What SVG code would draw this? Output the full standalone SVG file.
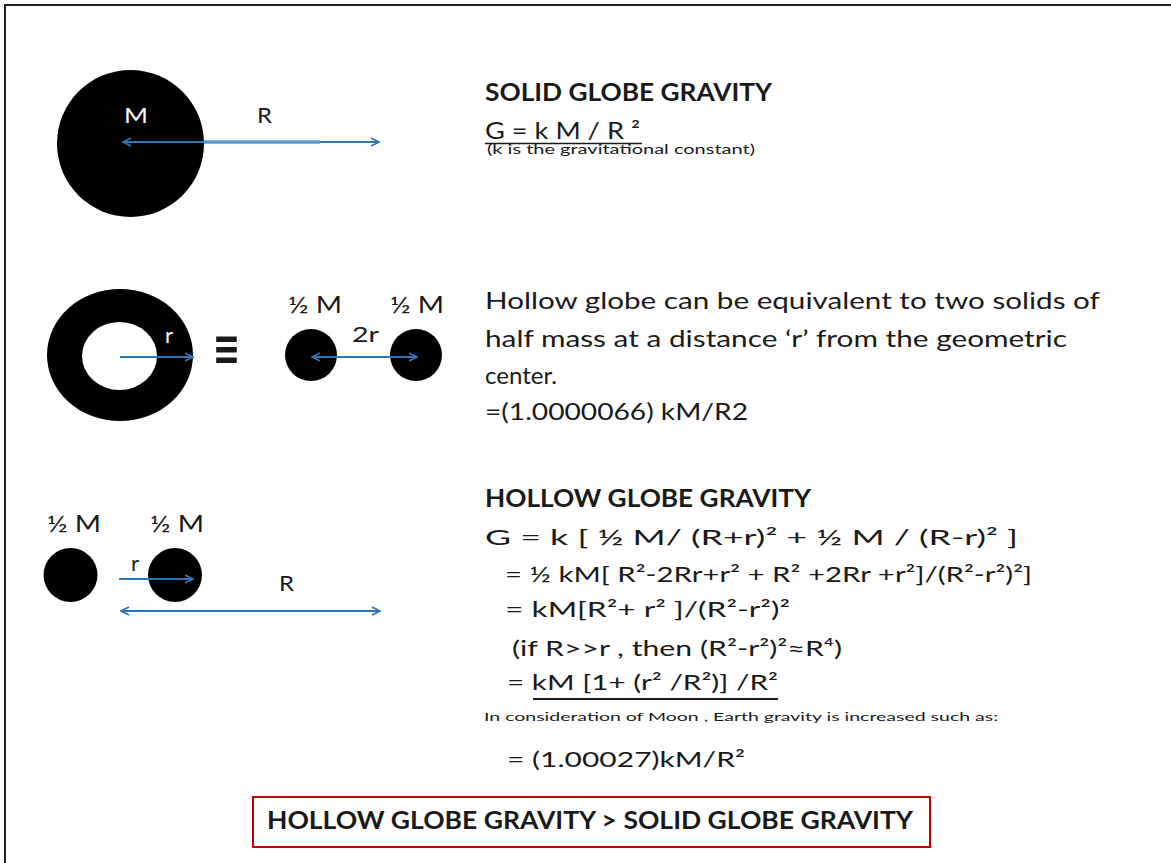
<svg xmlns="http://www.w3.org/2000/svg" width="1171" height="863" viewBox="0 0 1171 863">
<style>
.t{font-family:Lato,"Open Sans","Liberation Sans",sans-serif;fill:#1a1a1a}
.b{font-weight:bold}
.w{fill:#ffffff}
.ar{stroke:#2e75b6;stroke-width:2;fill:none}
.blob{fill:#000}
</style>
<defs>
<marker id="ah" viewBox="0 0 10 10" refX="9" refY="5" markerWidth="10" markerHeight="10" markerUnits="userSpaceOnUse" orient="auto-start-reverse">
<path d="M1,1 L9,5 L1,9" fill="none" stroke="#2e75b6" stroke-width="1.8"/>
</marker>
</defs>
<rect width="1171" height="863" fill="#fff"/>
<path d="M5,863 V5 H1171" fill="none" stroke="#222" stroke-width="2"/>

<g id="solid-globe">
<circle class="blob" cx="130.5" cy="143.5" r="73.5"/>
<text class="t w" x="124" y="123" font-size="22" textLength="24" lengthAdjust="spacingAndGlyphs">M</text>
<text class="t" x="257" y="123" font-size="22" textLength="15" lengthAdjust="spacingAndGlyphs">R</text>
</g>
<g id="solid-text">
<text class="t b" x="485" y="101" font-size="24" textLength="287" lengthAdjust="spacingAndGlyphs">SOLID GLOBE GRAVITY</text>
<text class="t" x="485" y="139" font-size="23" textLength="155" lengthAdjust="spacingAndGlyphs">G = k M / R ²</text>
<line x1="485" y1="143.5" x2="642" y2="143.5" stroke="#1a1a1a" stroke-width="1.5"/>
<text class="t" x="487" y="154" font-size="12.5" textLength="268" lengthAdjust="spacingAndGlyphs">(k is the gravitational constant)</text>
</g>

<g id="hollow-globe">
<path fill-rule="evenodd" class="blob" d="M47,355 a73,66 0 1,0 146,0 a73,66 0 1,0 -146,0 Z M82,356 a37.5,34 0 1,0 75,0 a37.5,34 0 1,0 -75,0 Z"/>
<text class="t w" x="165" y="343" font-size="22">r</text>
<text class="t b" x="213" y="369.5" font-size="60" textLength="27" lengthAdjust="spacingAndGlyphs">≡</text>
</g>
<g id="half-masses-1">
<circle class="blob" cx="311" cy="355" r="26"/>
<circle class="blob" cx="416" cy="355" r="26"/>
<text class="t" x="288" y="313" font-size="23" textLength="54" lengthAdjust="spacingAndGlyphs">½ M</text>
<text class="t" x="390" y="313" font-size="23" textLength="54" lengthAdjust="spacingAndGlyphs">½ M</text>
<text class="t" x="352" y="342" font-size="22" textLength="27" lengthAdjust="spacingAndGlyphs">2r</text>
</g>
<g id="equivalence-text">
<text class="t" x="485" y="309" font-size="24" textLength="615" lengthAdjust="spacingAndGlyphs">Hollow globe can be equivalent to  two solids of</text>
<text class="t" x="485" y="347" font-size="24" textLength="582" lengthAdjust="spacingAndGlyphs">half mass at a distance ‘r’ from the geometric</text>
<text class="t" x="485" y="384" font-size="24" textLength="72" lengthAdjust="spacingAndGlyphs">center.</text>
<text class="t" x="485" y="420" font-size="24" textLength="263" lengthAdjust="spacingAndGlyphs">=(1.0000066) kM/R2</text>
</g>

<g id="half-masses-2">
<circle class="blob" cx="70.5" cy="575" r="27"/>
<circle class="blob" cx="175" cy="575" r="27"/>
<text class="t" x="47" y="532" font-size="23" textLength="54" lengthAdjust="spacingAndGlyphs">½ M</text>
<text class="t" x="150" y="532" font-size="23" textLength="54" lengthAdjust="spacingAndGlyphs">½ M</text>
<text class="t" x="131" y="571" font-size="22">r</text>
<text class="t" x="279" y="591" font-size="22" textLength="15" lengthAdjust="spacingAndGlyphs">R</text>
</g>
<g id="hollow-text">
<text class="t b" x="485" y="507" font-size="24" textLength="326" lengthAdjust="spacingAndGlyphs">HOLLOW GLOBE GRAVITY</text>
<text class="t" x="485" y="545" font-size="22" textLength="533" lengthAdjust="spacingAndGlyphs">G = k [ ½ M/ (R+r)²  + ½ M / (R-r)² ]</text>
<text class="t" x="505" y="582" font-size="22" textLength="527" lengthAdjust="spacingAndGlyphs">= ½ kM[ R²-2Rr+r² + R² +2Rr +r²]/(R²-r²)²]</text>
<text class="t" x="505" y="617" font-size="22" textLength="285" lengthAdjust="spacingAndGlyphs">= kM[R²+ r² ]/(R²-r²)²</text>
<text class="t" x="512" y="656" font-size="22" textLength="330" lengthAdjust="spacingAndGlyphs">(if R&gt;&gt;r , then (R²-r²)²≈R⁴)</text>
<text class="t" x="507" y="690" font-size="22" textLength="271" lengthAdjust="spacingAndGlyphs">= kM [1+ (r² /R²)] /R²</text>
<line x1="533" y1="699" x2="778" y2="699" stroke="#1a1a1a" stroke-width="2"/>
<text class="t" x="484" y="721" font-size="12" textLength="514" lengthAdjust="spacingAndGlyphs">In consideration of  Moon , Earth gravity is increased such as:</text>
<text class="t" x="507" y="767" font-size="22" textLength="238" lengthAdjust="spacingAndGlyphs">= (1.00027)kM/R²</text>
</g>

<g id="conclusion">
<rect x="253" y="797" width="677" height="50" fill="none" stroke="#c00000" stroke-width="2"/>
<text class="t b" x="267" y="829" font-size="24" textLength="646" lengthAdjust="spacingAndGlyphs">HOLLOW GLOBE GRAVITY &gt; SOLID GLOBE GRAVITY</text>
</g>

<g id="connectors">
<line class="ar" x1="123" y1="142" x2="379" y2="142" marker-start="url(#ah)" marker-end="url(#ah)"/>
<line x1="204" y1="142" x2="320" y2="142" stroke="#5b9bd5" stroke-width="3.5"/>
<line class="ar" x1="120" y1="357" x2="193" y2="357" marker-end="url(#ah)"/>
<line class="ar" x1="312" y1="357" x2="417" y2="357" marker-start="url(#ah)" marker-end="url(#ah)"/>
<line class="ar" x1="119" y1="579" x2="193" y2="579" marker-end="url(#ah)"/>
<line class="ar" x1="121" y1="611" x2="380" y2="611" marker-start="url(#ah)" marker-end="url(#ah)"/>
</g>
</svg>
